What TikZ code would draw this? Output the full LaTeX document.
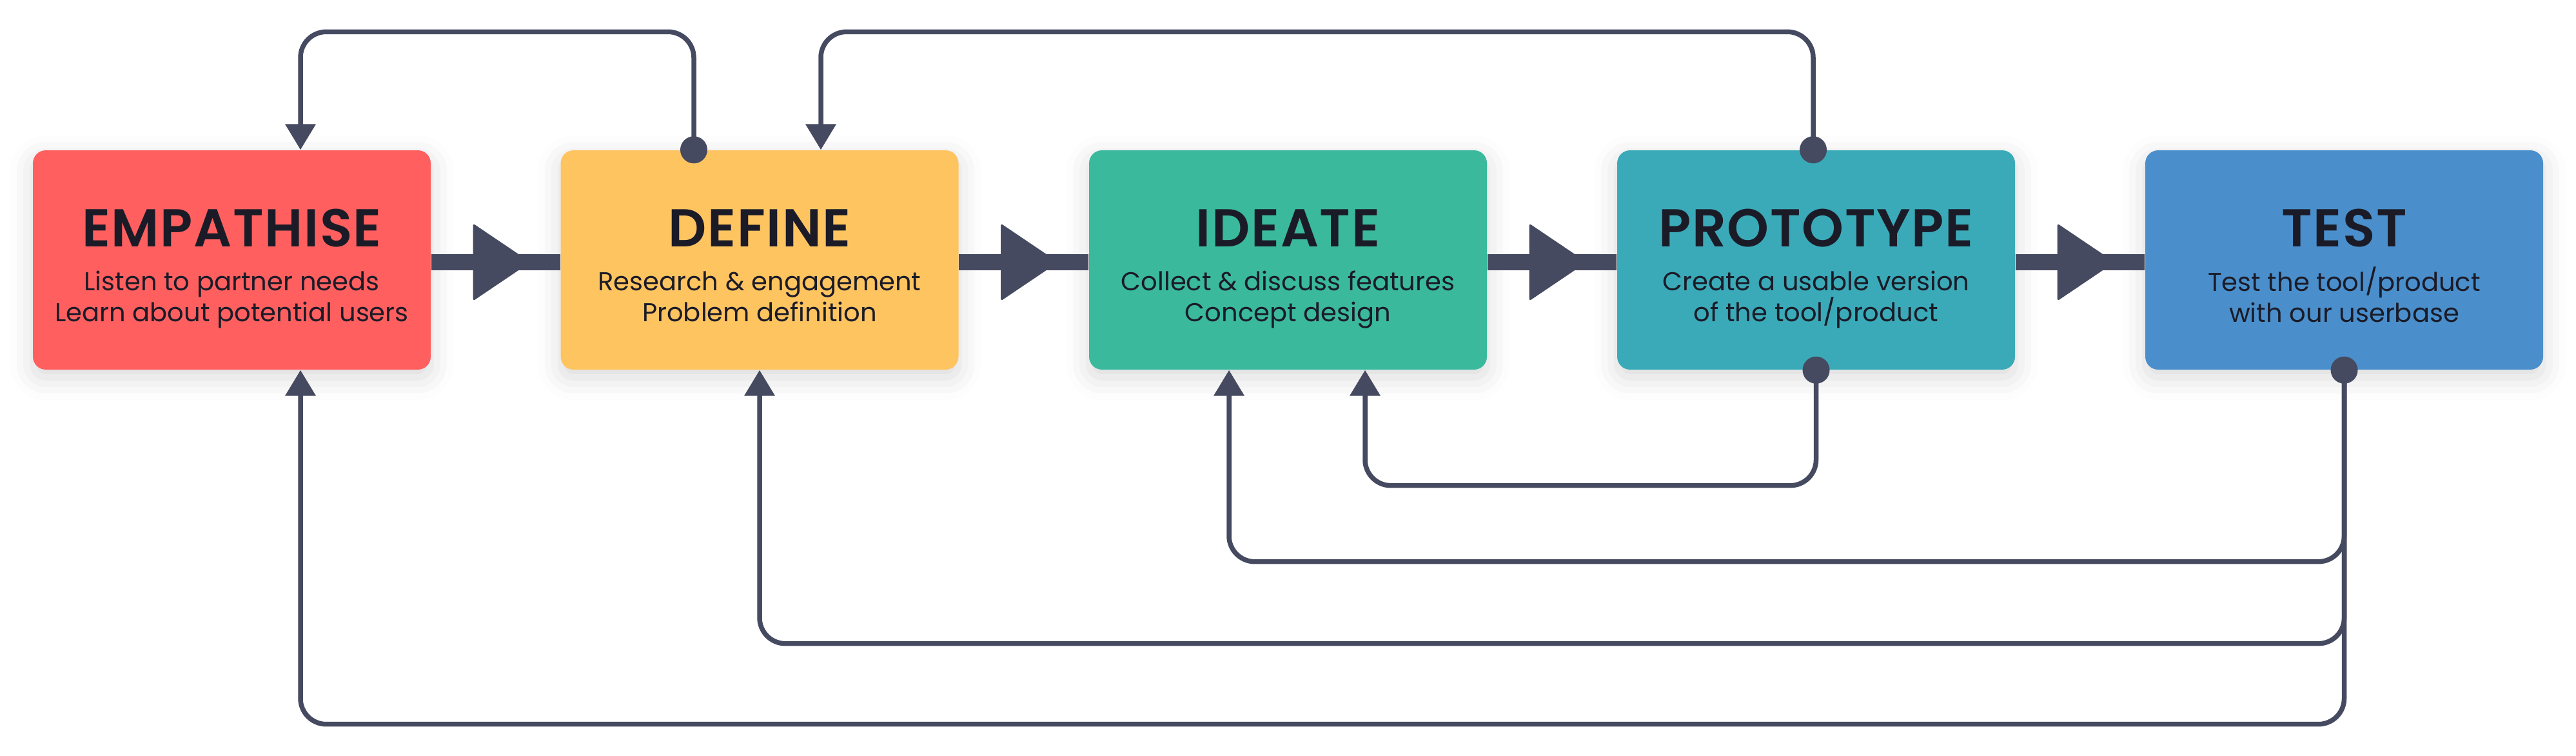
\documentclass[tikz,border=0pt]{standalone}
\usepackage{fontspec}
\setmainfont{Poppins}
\newfontfamily\ttlfont{Poppins SemiBold}[LetterSpace=2]
\usepackage{tikz}
\usetikzlibrary{calc,arrows.meta,shadows.blur}
\definecolor{fb}{HTML}{464A60}
\definecolor{ink}{HTML}{1B1B28}
\definecolor{empred}{HTML}{FF605F}
\definecolor{defyel}{HTML}{FEC460}
\definecolor{idegrn}{HTML}{3AB99D}
\definecolor{protea}{HTML}{3AAAB8}
\definecolor{tstblu}{HTML}{4A8FCB}
\def\flowarrow(#1)(#2){\draw[flow] ([yshift=-0.035cm]#1.east) -- ([yshift=-0.035cm]#2.west);
	\fill[fb, rounded corners=0.03cm] ([xshift=0.65cm, yshift=-0.035cm]#1.east) -- ++(0,0.6) -- ++(0.89,-0.6) -- ++(-0.89,-0.6) -- cycle;}

\begin{document}
\begin{tikzpicture}[
	box/.style={rectangle, rounded corners=0.2cm, minimum width=6.17cm, minimum height=3.40cm, inner sep=0,
		blur shadow={shadow xshift=0cm, shadow yshift=-0.12cm, shadow blur radius=0.35cm, shadow opacity=15}},
	ttl/.style={font=\ttlfont\fontsize{23.5}{28}\selectfont, text=ink, anchor=base, inner sep=0},
	sub/.style={font=\fontsize{11.4}{13.7}\selectfont, text=ink, align=center, anchor=north, inner sep=0},
	dot/.style={circle, fill=fb, minimum size=0.42cm, inner sep=0},
	flow/.style={draw=fb, line width=0.25cm},
	fbline/.style={draw=fb, line width=0.075cm, rounded corners=0.4cm, -{Triangle[length=0.4cm, width=0.46cm]}}
	]
		%%%%% START %%%%%
		
		\useasboundingbox (0, 0) rectangle (39.95, -11.72);
		
		\node[box, fill=empred] (emp) at (3.595, -4.03) {};
		\node[box, fill=defyel] (def) at (11.78, -4.03) {};
		\node[box, fill=idegrn] (ide) at (19.975, -4.03) {};
		\node[box, fill=protea] (pro) at (28.165, -4.03) {};
		\node[box, fill=tstblu] (tst) at (36.355, -4.03) {};
		
		\node[ttl] (empT) at ([yshift=0.21cm]emp.center) {EMPATHISE};
		\node[sub] (empS) at ([yshift=-0.10cm]emp.center) {\rule{0pt}{0.37cm}Listen to partner needs\\Learn about potential users};
		\node[ttl] (defT) at ([yshift=0.21cm]def.center) {DEFINE};
		\node[sub] (defS) at ([yshift=-0.10cm]def.center) {\rule{0pt}{0.37cm}Research \& engagement\\Problem definition};
		\node[ttl] (ideT) at ([yshift=0.21cm]ide.center) {IDEATE};
		\node[sub] (ideS) at ([yshift=-0.10cm]ide.center) {\rule{0pt}{0.37cm}Collect \& discuss features\\Concept design};
		\node[ttl] (proT) at ([yshift=0.21cm]pro.center) {PROTOTYPE};
		\node[sub] (proS) at ([yshift=-0.10cm]pro.center) {\rule{0pt}{0.37cm}Create a usable version\\of the tool/product};
		\node[ttl] (tstT) at ([yshift=0.21cm]tst.center) {TEST};
		\node[sub] (tstS) at ([yshift=-0.10cm]tst.center) {\rule{0pt}{0.37cm}Test the tool/product\\with our userbase};
		
		\flowarrow(emp)(def)
		\flowarrow(def)(ide)
		\flowarrow(ide)(pro)
		\flowarrow(pro)(tst)
		
		% loops back over the top
		\draw[fbline] ([xshift=-1.02cm]def.north) -- ++(0, 1.83) -| ([xshift=1.065cm]emp.north);
		\draw[fbline] ([xshift=-0.045cm]pro.north) -- ++(0, 1.83) -| ([xshift=0.95cm]def.north);
		
		% loops back underneath
		\draw[fbline] (pro.south) -- ++(0, -1.79) -| ([xshift=1.195cm]ide.south);
		\draw[fbline] (tst.south) -- ++(0, -2.97) -| ([xshift=-0.915cm]ide.south);
		\draw[fbline] (tst.south) -- ++(0, -4.24) -| (def.south);
		\draw[fbline] (tst.south) -- ++(0, -5.49) -| ([xshift=1.065cm]emp.south);
		
		\node[dot] (defD) at ([xshift=-1.02cm]def.north) {};
		\node[dot] (proD) at ([xshift=-0.045cm]pro.north) {};
		\node[dot] (proB) at (pro.south) {};
		\node[dot] (tstB) at (tst.south) {};
		
		%%%%% END %%%%%
\end{tikzpicture}
\end{document}
